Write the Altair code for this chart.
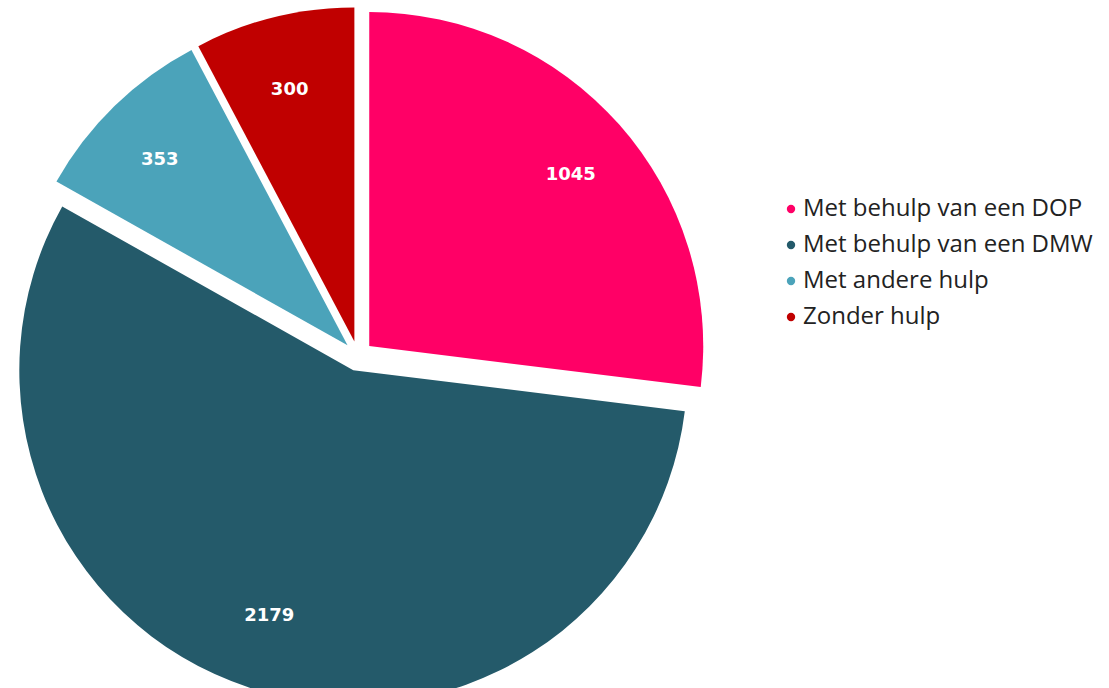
import altair as alt
import pandas as pd

categories = ["Met behulp van een DOP", "Met behulp van een DMW", "Met andere hulp", "Zonder hulp"]
values = [1045, 2179, 353, 300]
colors = ["#FF0066", "#245A6A", "#4BA3BA", "#C00000"]

df = pd.DataFrame({"cat": categories, "value": values, "order": list(range(len(values)))})

CX, CY, R, EXPLODE = 358, 356, 334, 15
LRX, LRY = 284, 274

base = alt.Chart(df).transform_joinaggregate(
    total="sum(value)"
).transform_window(
    cum="sum(value)", sort=[alt.SortField("order")], frame=[None, 0]
).transform_calculate(
    mid="2*PI*(datum.cum - datum.value/2)/datum.total"
).transform_calculate(
    px=f"{CX} + {EXPLODE}*sin(datum.mid)",
    py=f"{CY} - {EXPLODE}*cos(datum.mid)",
    lx=f"{CX} + {LRX}*sin(datum.mid)",
    ly=f"{CY} - {LRY}*cos(datum.mid)",
)

arcs = base.mark_arc(outerRadius=R).encode(
    theta=alt.Theta("value:Q", stack=True),
    order=alt.Order("order:Q"),
    x=alt.X("px:Q", scale=None),
    y=alt.Y("py:Q", scale=None),
    color=alt.Color(
        "cat:N",
        scale=alt.Scale(domain=categories, range=colors),
        legend=alt.Legend(
            title=None, orient="none", legendX=779, legendY=197,
            symbolType="circle", symbolSize=70, labelFontSize=24,
            labelFont="Open Sans", labelColor="#222222", rowPadding=12,
            labelOffset=0, labelLimit=0,
        ),
    ),
)

labels = base.mark_text(
    font="DejaVu Sans", fontWeight="bold", fontSize=18, color="white"
).encode(
    x=alt.X("lx:Q", scale=None),
    y=alt.Y("ly:Q", scale=None),
    text="value:Q",
)

chart = alt.layer(arcs, labels).properties(
    width=1109, height=688, padding=0, autosize=alt.AutoSizeParams(type="none")
).configure_view(stroke=None)

chart.save("out.html", embed_options={"renderer": "svg", "actions": False})
